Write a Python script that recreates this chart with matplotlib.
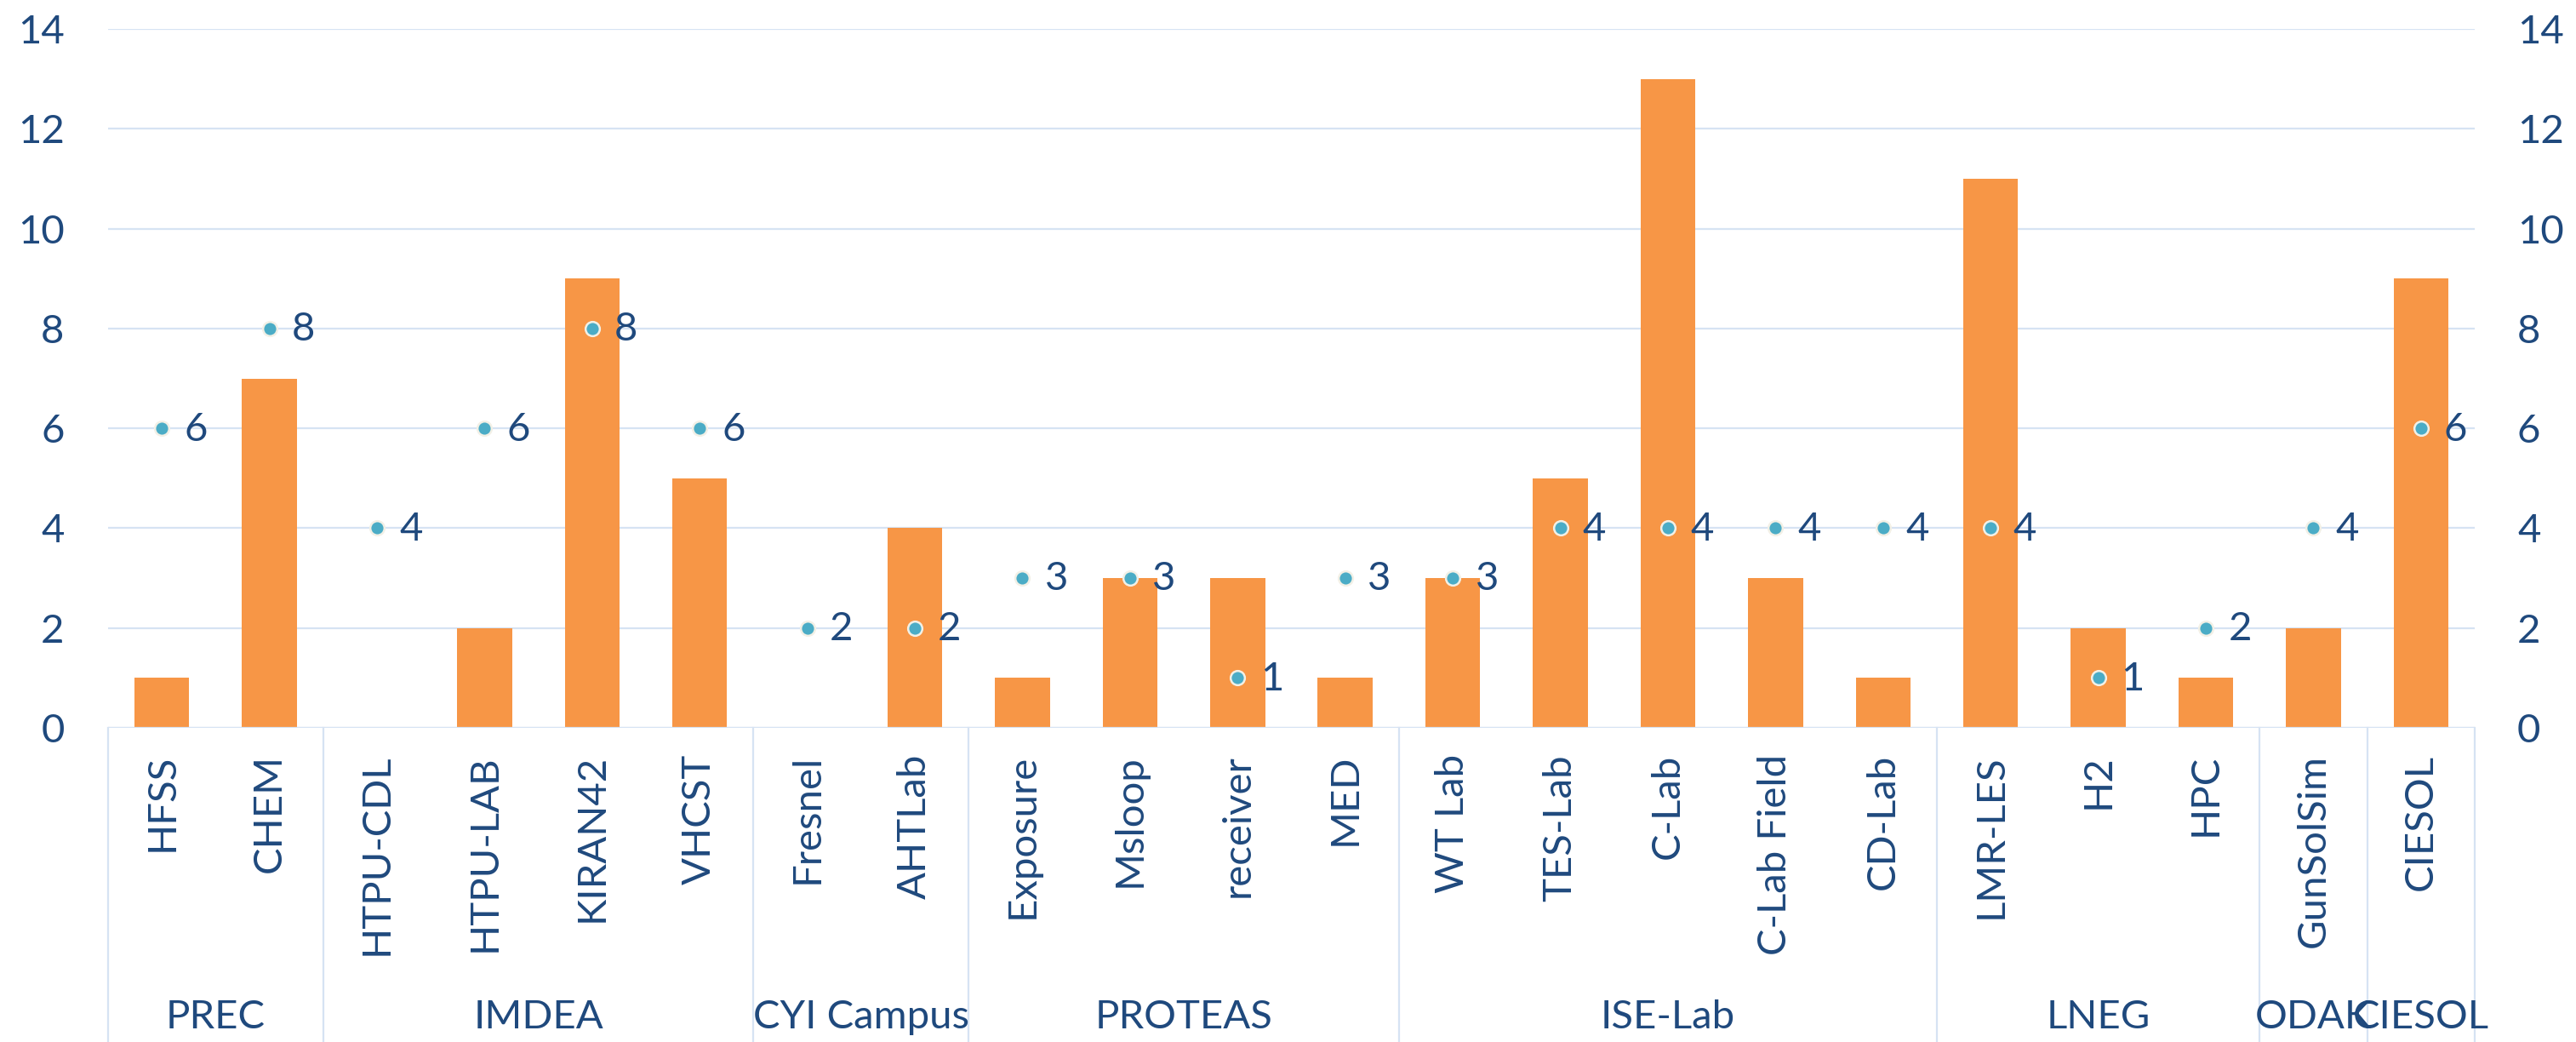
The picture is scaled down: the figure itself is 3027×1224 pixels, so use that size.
import numpy as np
import matplotlib
matplotlib.use('Agg')
import matplotlib.pyplot as plt
from matplotlib.transforms import blended_transform_factory

plt.rcParams['font.family'] = ['Lato', 'DejaVu Sans']

labs = ['HFSS', 'CHEM', 'HTPU-CDL', 'HTPU-LAB', 'KIRAN42', 'VHCST', 'Fresnel', 'AHTLab',
        'Exposure', 'Msloop', 'receiver', 'MED', 'WT Lab', 'TES-Lab', 'C-Lab', 'C-Lab Field',
        'CD-Lab', 'LMR-LES', 'H2', 'HPC', 'GunSolSim', 'CIESOL']
bars = [1, 7, 0, 2, 9, 5, 0, 4, 1, 3, 3, 1, 3, 5, 13, 3, 1, 11, 2, 1, 2, 9]
pts = [6, 8, 4, 6, 8, 6, 2, 2, 3, 3, 1, 3, 3, 4, 4, 4, 4, 4, 1, 2, 4, 6]
groups = ['PREC', 'IMDEA', 'CYI Campus', 'PROTEAS', 'ISE-Lab', 'LNEG', 'ODAK', 'CIESOL']
group_sizes = [2, 4, 2, 4, 5, 3, 1, 1]

txt = '#1F497D'
grid = '#D6E3F3'
W, H = 3027, 1224
fig = plt.figure(figsize=(W / 100, H / 100), dpi=100)
x0, x1, ytop, ybase = 127, 2908, 34, 855
ax = fig.add_axes([x0 / W, 1 - ybase / H, (x1 - x0) / W, (ybase - ytop) / H])
x = np.arange(len(labs))
ax.bar(x, bars, width=0.51, color='#F79646', zorder=2)
ax.plot(x, pts, 'o', ms=12, mfc='#4BACC6', mec='#F2F0E6', mew=1.8, zorder=4, clip_on=False)
for xi, v in zip(x, pts):
    ax.annotate(str(v), (xi, v), xytext=(19, -1), textcoords='offset points',
                va='center', ha='left', fontsize=34, color=txt, zorder=5)
ax.set_xlim(-0.5, len(labs) - 0.5)
ax.set_ylim(0, 14)
ax.set_yticks(range(0, 15, 2))
ax.grid(axis='y', color=grid, lw=1.6, zorder=0)
for s in ax.spines.values():
    s.set_visible(False)
ax.set_xticks([])
ax.tick_params(axis='y', length=0, pad=37, labelsize=34, labelcolor=txt)
ax.axhline(0, color=grid, lw=1.6, zorder=3)

ax2 = ax.twinx()
ax2.set_ylim(0, 14)
ax2.set_yticks(range(0, 15, 2))
for s in ax2.spines.values():
    s.set_visible(False)
ax2.tick_params(axis='y', length=0, pad=36, labelsize=34, labelcolor=txt)

tr = blended_transform_factory(ax.transData, fig.transFigure)
for xi, lab in zip(x, labs):
    ax.text(xi, 1 - 886 / H, lab, transform=tr, rotation=90, ha='center', va='top',
            fontsize=34, color=txt)
bounds = np.concatenate([[0], np.cumsum(group_sizes)]) - 0.5
for b in bounds:
    ax.plot([b, b], [1 - ybase / H, 0], transform=tr, color=grid, lw=1.6, clip_on=False)
for g, a, b in zip(groups, bounds[:-1], bounds[1:]):
    ax.text((a + b) / 2, 1 - 1195 / H, g, transform=tr, ha='center', va='center',
            fontsize=34, color=txt)

fig.savefig('out.png', dpi=100)
plt.close()
